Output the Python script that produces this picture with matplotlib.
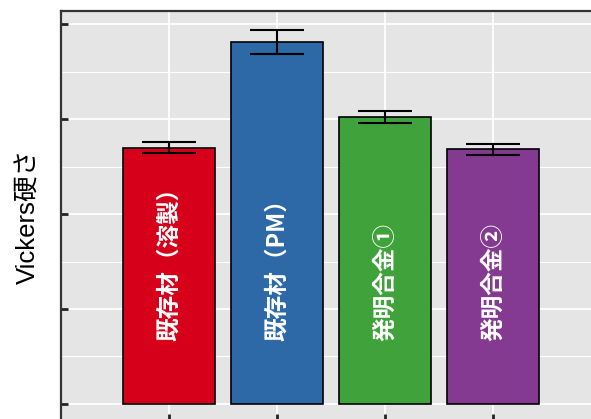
import matplotlib
matplotlib.use("Agg")
import matplotlib.pyplot as plt
import matplotlib.ticker as mticker
import numpy as np

# Hardness per material (HV) with standard deviation
labels = ["既存材（溶製）", "既存材（PM）", "発明合金①", "発明合金②"]
hardness = [270, 381, 302, 268]
hardness_sd = [5.5, 13, 6.3, 5.6]
colors = ["#D7001A", "#2C69A6", "#40A23A", "#843A91"]

BG = "#E5E5E5"
CJK = ["Noto Sans CJK JP", "DejaVu Sans"]

fig = plt.figure(figsize=(5.91, 4.19), dpi=100)
ax = fig.add_axes([61 / 591, -2 / 419, 540 / 591, 410 / 419])
ax.set_facecolor(BG)

x = np.arange(len(labels))
ax.bar(x, hardness, width=0.85, color=colors, edgecolor="black", linewidth=1.2, zorder=2)
ax.errorbar(x, hardness, yerr=hardness_sd, fmt="none", ecolor="black",
            elinewidth=1.5, capsize=19.5, capthick=1.5, zorder=3)

for xi, name in zip(x, labels):
    ax.text(xi, 66, name, rotation=90, ha="center", va="bottom", color="white",
            fontsize=17, fontweight="bold", family=CJK, zorder=4)

ax.set_xlim(-1.0, 4.0)
ax.set_ylim(-17.9, 413.7)
ax.set_xticks(x)
ax.set_xticklabels([])
ax.yaxis.set_major_locator(mticker.MultipleLocator(100))
ax.yaxis.set_minor_locator(mticker.MultipleLocator(50))
ax.set_yticklabels([])

ax.set_axisbelow(True)
ax.grid(which="major", color="white", linewidth=1.3)
ax.grid(which="minor", axis="y", color="white", linewidth=0.8)
ax.tick_params(which="major", direction="in", length=5, width=2, color="#222222")
ax.tick_params(which="minor", length=0)

for side in ["left", "top", "bottom", "right"]:
    ax.spines[side].set_color("#333333")
    ax.spines[side].set_linewidth(1.6)

ax.set_ylabel("Vickers硬さ", fontsize=18.5, family=["Liberation Sans", "Noto Sans CJK JP"],
              labelpad=11)

fig.savefig("out.png", dpi=100, facecolor="white")
